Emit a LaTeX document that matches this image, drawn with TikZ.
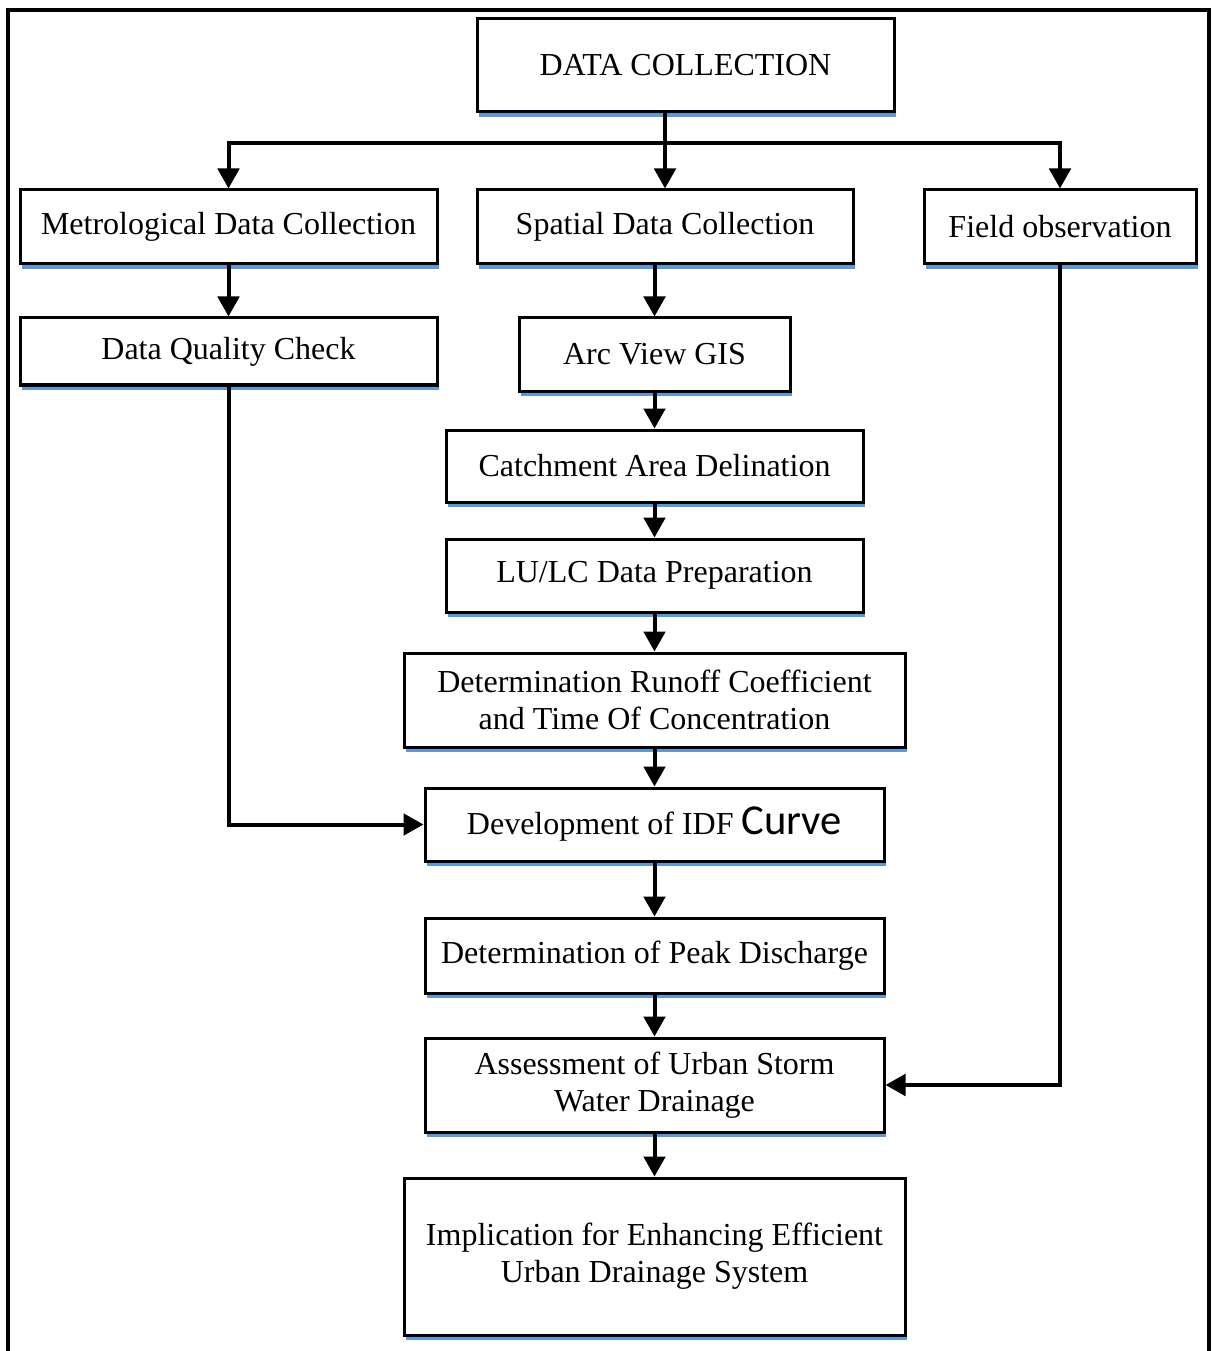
\documentclass[tikz,border=0pt]{standalone}
\usepackage{fontspec}
\setmainfont{Liberation Serif}
\newfontfamily\curvefont{Carlito}
\usepackage{tikz}
\usetikzlibrary{arrows.meta,shadows}
\definecolor{shadowblue}{RGB}{91,155,213}

\begin{document}
\begin{tikzpicture}[x=0.75pt,y=0.75pt,yscale=-1,xscale=1,
    box/.style={draw, line width=2.25pt, fill=white, align=center, inner sep=0pt,
        font=\fontsize{24}{28}\selectfont,
        drop shadow={shadow xshift=1.5pt, shadow yshift=-4pt, fill=shadowblue, opacity=1}},
    arr/.style={line width=3pt, -{Triangle[length=15pt,width=16pt]}}]

    \useasboundingbox (0,0) rectangle (1211,1351);
    \draw [line width=2.5pt] (8,1351) -- (8,10) -- (1209,10) -- (1209,1351);

    \node [box, minimum width=312.75pt, minimum height=69.75pt] (datacoll) at (685.5,65.5) {DATA COLLECTION};
    \node [box, minimum width=312.75pt, minimum height=55.5pt] (metro) at (228.5,227) {Metrological Data Collection};
    \node [box, minimum width=282pt, minimum height=55.5pt] (spatial) at (665,227) {Spatial Data Collection};
    \node [box, minimum width=204pt, minimum height=55.5pt] (field) at (1060,227) {Field observation};
    \node [box, minimum width=312.75pt, minimum height=50.25pt] (quality) at (228.5,351.5) {Data Quality Check};
    \node [box, minimum width=203.25pt, minimum height=54.75pt] (arcgis) at (654.5,354.5) {Arc View GIS};
    \node [box, minimum width=312.75pt, minimum height=54pt] (catchment) at (654.5,466) {Catchment Area Delination};
    \node [box, minimum width=312.75pt, minimum height=54.75pt] (lulc) at (654.5,575.5) {LU/LC Data Preparation};
    \node [box, minimum width=375.75pt, minimum height=70.5pt] (runoff) at (654.5,700) {Determination Runoff Coefficient\\and Time Of Concentration};
    \node [box, minimum width=344.25pt, minimum height=54.75pt] (idf) at (654.5,824.5) {Development of IDF {\curvefont\fontsize{32}{32}\selectfont Curve}};
    \node [box, minimum width=344.25pt, minimum height=56.25pt] (peak) at (654.5,955.5) {Determination of Peak Discharge};
    \node [box, minimum width=344.25pt, minimum height=70.5pt] (assess) at (654.5,1085) {Assessment of Urban Storm\\Water Drainage};
    \node [box, minimum width=375.75pt, minimum height=117.75pt] (implic) at (654.5,1256.5) {Implication for Enhancing Efficient\\Urban Drainage System};

    \coordinate (bus) at (665,143);
    \draw [line width=3pt] (datacoll.south -| spatial) -- (bus);
    \draw [arr] (bus) -- (spatial.north);
    \draw [arr] (bus) -| (metro.north);
    \draw [arr] (bus) -| (field.north);

    \draw [arr] (metro) -- (quality);
    \draw [arr] (spatial.south -| arcgis) -- (arcgis);
    \draw [arr] (arcgis) -- (catchment);
    \draw [arr] (catchment) -- (lulc);
    \draw [arr] (lulc) -- (runoff);
    \draw [arr] (runoff) -- (idf);
    \draw [arr] (idf) -- (peak);
    \draw [arr] (peak) -- (assess);
    \draw [arr] (assess) -- (implic);

    \draw [arr] (quality.south) |- (idf.west);
    \draw [arr] (field.south) |- (assess.east);

\end{tikzpicture}
\end{document}
